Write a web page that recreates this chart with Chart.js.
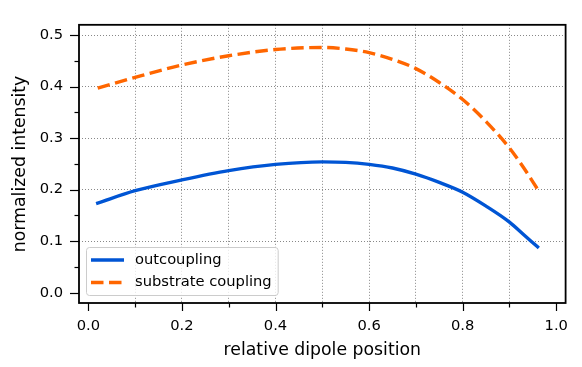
<!DOCTYPE html>
<html>
<head>
<meta charset="utf-8">
<script src="https://cdn.jsdelivr.net/npm/chart.js@4"></script>
<style>
  html, body { margin: 0; padding: 0; background: #fff; }
  canvas { display: block; }
</style>
</head>
<body>
<canvas id="chartDipolo" width="582" height="367"></canvas>
<script>
// datos
const posiciones = [0.02, 0.1, 0.2, 0.3, 0.4, 0.5, 0.55, 0.6, 0.65, 0.7, 0.75, 0.8, 0.85, 0.9, 0.93, 0.96];
const outcoupling = [0.174, 0.198, 0.219, 0.237, 0.249, 0.254, 0.253, 0.249, 0.242, 0.230, 0.214, 0.195, 0.168, 0.137, 0.113, 0.089];
const substrato = [0.397, 0.418, 0.442, 0.460, 0.472, 0.476, 0.473, 0.466, 0.453, 0.435, 0.408, 0.375, 0.332, 0.281, 0.243, 0.201];

// ticks
const xTicks = [0.0, 0.1, 0.2, 0.3, 0.4, 0.5, 0.6, 0.7, 0.8, 0.9, 1.0];
const xLabels = [0.0, 0.2, 0.4, 0.6, 0.8, 1.0];
const yTicks = [0.0, 0.1, 0.2, 0.3, 0.4, 0.5];
const yMinor = [0.05, 0.15, 0.25, 0.35, 0.45];

const fuente = 'DejaVu Sans';

// marco, marcas de ticks y leyenda dentro del area
const extras = {
    id: 'extras',
    afterDraw(chart) {
        const ctx = chart.ctx;
        const ca = chart.chartArea;
        const xs = chart.scales.x;
        const ys = chart.scales.y;
        ctx.save();
        ctx.strokeStyle = '#000';

        // marcas
        ctx.lineWidth = 1.2;
        xTicks.forEach(v => {
            const px = Math.round(xs.getPixelForValue(v)) + 0.5;
            const largo = xLabels.includes(v) ? 8 : 4.5;
            ctx.beginPath();
            ctx.moveTo(px, ca.bottom);
            ctx.lineTo(px, ca.bottom + largo);
            ctx.stroke();
        });
        yTicks.forEach(v => {
            const py = Math.round(ys.getPixelForValue(v)) + 0.5;
            ctx.beginPath();
            ctx.moveTo(ca.left - 9, py);
            ctx.lineTo(ca.left, py);
            ctx.stroke();
        });
        yMinor.forEach(v => {
            const py = Math.round(ys.getPixelForValue(v)) + 0.5;
            ctx.beginPath();
            ctx.moveTo(ca.left - 4.5, py);
            ctx.lineTo(ca.left, py);
            ctx.stroke();
        });

        // marco
        ctx.lineWidth = 1.8;
        ctx.strokeRect(ca.left, ca.top, ca.right - ca.left, ca.bottom - ca.top);

        // leyenda
        const sets = chart.data.datasets;
        ctx.font = '14.7px "' + fuente + '"';
        let anchoTexto = 0;
        sets.forEach(d => { anchoTexto = Math.max(anchoTexto, ctx.measureText(d.label).width); });
        const x0 = ca.left + 7;
        const h = 48;
        const y0 = ca.bottom - 8 - h;
        const xLinea = x0 + 5;
        const xTexto = xLinea + 33 + 11;
        const w = xTexto - x0 + anchoTexto + 6;
        ctx.beginPath();
        ctx.roundRect(x0 + 0.5, y0 + 0.5, w, h, 3);
        ctx.fillStyle = 'rgba(255,255,255,0.8)';
        ctx.fill();
        ctx.lineWidth = 1;
        ctx.strokeStyle = '#cccccc';
        ctx.stroke();

        sets.forEach((d, i) => {
            const fy = y0 + 13 + i * 22.5;
            ctx.beginPath();
            ctx.strokeStyle = d.borderColor;
            ctx.lineWidth = d.borderWidth;
            ctx.lineCap = 'butt';
            ctx.setLineDash(d.borderDash || []);
            ctx.moveTo(xLinea, fy);
            ctx.lineTo(xLinea + 33, fy);
            ctx.stroke();
            ctx.setLineDash([]);
            ctx.fillStyle = '#000';
            ctx.textBaseline = 'middle';
            ctx.fillText(d.label, xTexto, fy);
        });
        ctx.restore();
    }
};

new Chart(document.getElementById('chartDipolo'), {
    type: 'line',
    data: {
        datasets: [{
            label: 'outcoupling',
            data: posiciones.map((x, i) => ({ x: x, y: outcoupling[i] })),
            borderColor: '#0055d4',
            borderWidth: 3.4,
            borderCapStyle: 'square',
            cubicInterpolationMode: 'monotone',
            pointRadius: 0,
            fill: false
        }, {
            label: 'substrate coupling',
            data: posiciones.map((x, i) => ({ x: x, y: substrato[i] })),
            borderColor: '#ff6600',
            borderWidth: 3.4,
            borderDash: [12.5, 5.5],
            cubicInterpolationMode: 'monotone',
            pointRadius: 0,
            fill: false
        }]
    },
    options: {
        responsive: false,
        animation: false,
        devicePixelRatio: 1,
        layout: { padding: { top: 5, right: 4, left: 0, bottom: 0 } },
        plugins: {
            legend: { display: false },
            tooltip: { enabled: false }
        },
        scales: {
            x: {
                type: 'linear',
                min: -0.02,
                max: 1.02,
                afterBuildTicks: s => { s.ticks = xTicks.map(v => ({ value: v })); },
                afterFit: s => { s.height = 64; },
                border: { display: false, dash: [1, 2] },
                grid: {
                    drawTicks: false,
                    lineWidth: 1,
                    color: c => (c.tick && (c.tick.value === 0 || c.tick.value === 1)) ? 'rgba(0,0,0,0)' : '#888888'
                },
                ticks: {
                    padding: 14,
                    color: '#000',
                    maxRotation: 0,
                    autoSkip: false,
                    font: { family: fuente, size: 14.7 },
                    callback: v => xLabels.includes(v) ? v.toFixed(1) : ''
                },
                title: {
                    display: true,
                    text: 'relative dipole position',
                    color: '#000',
                    font: { family: fuente, size: 17.3 },
                    padding: { top: 0, bottom: 6 }
                }
            },
            y: {
                type: 'linear',
                min: -0.02,
                max: 0.52,
                afterBuildTicks: s => { s.ticks = yTicks.map(v => ({ value: v })); },
                afterFit: s => { s.width = 79; },
                border: { display: false, dash: [1, 2] },
                grid: {
                    drawTicks: false,
                    lineWidth: 1,
                    color: c => (c.tick && c.tick.value === 0) ? 'rgba(0,0,0,0)' : '#888888'
                },
                ticks: {
                    padding: 16,
                    color: '#000',
                    font: { family: fuente, size: 14.7 },
                    callback: v => v.toFixed(1)
                },
                title: {
                    display: true,
                    text: 'normalized intensity',
                    color: '#000',
                    font: { family: fuente, size: 17.3 },
                    padding: { top: 10, bottom: 0 }
                }
            }
        }
    },
    plugins: [extras]
});
</script>
</body>
</html>
